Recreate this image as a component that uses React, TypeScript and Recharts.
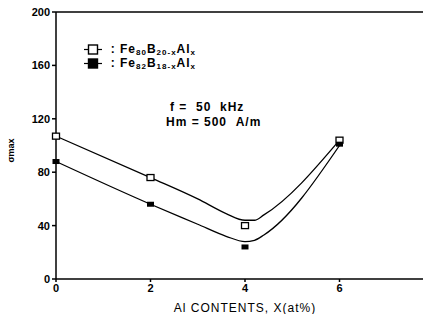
import React from 'react';
import {
  ComposedChart,
  Line,
  Scatter,
  XAxis,
  YAxis,
  ReferenceLine,
} from 'recharts';

// measured points
const alContent = [0, 2, 4, 6];
const fe80Values = [107, 76, 40, 104];
const fe82Values = [88, 56, 24, 101];

// hand-drawn fit curves
const fitX = [0, 2, 3, 3.6, 4, 4.2, 4.4, 6];
const fe80Fit = [107, 76, 60, 49, 44, 44, 48, 104];
const fe82Fit = [88, 56, 41, 32, 28, 29, 33, 100];

const xTicks = [0, 2, 4, 6];
const yTicks = [0, 40, 80, 120, 160, 200];

const fe80Points = alContent.map((x, i) => ({ x, y: fe80Values[i] }));
const fe82Points = alContent.map((x, i) => ({ x, y: fe82Values[i] }));
const fe80Curve = fitX.map((x, i) => ({ x, y: fe80Fit[i] }));
const fe82Curve = fitX.map((x, i) => ({ x, y: fe82Fit[i] }));

const font = '"Liberation Sans", Arial, sans-serif';

const OpenSquare = (props: any) => (
  <rect x={props.cx - 3.5} y={props.cy - 3} width={7} height={6} fill="#fff" stroke="#000" strokeWidth={1.3} />
);
const FilledSquare = (props: any) => (
  <rect x={props.cx - 3.5} y={props.cy - 2.5} width={7} height={5} fill="#000" />
);

const LegendIcon = ({ filled }: { filled: boolean }) => (
  <svg width={18} height={11} style={{ verticalAlign: 'middle' }}>
    <line x1={0} y1={5.5} x2={4} y2={5.5} stroke="#000" strokeWidth={1.2} />
    <line x1={14} y1={5.5} x2={18} y2={5.5} stroke="#000" strokeWidth={1.2} />
    <rect x={4.5} y={1} width={9} height={9} fill={filled ? '#000' : '#fff'} stroke="#000" strokeWidth={1.4} />
  </svg>
);

const legendRow: React.CSSProperties = {
  position: 'absolute',
  fontSize: 12,
  fontWeight: 'bold',
  whiteSpace: 'nowrap',
  lineHeight: '13px',
  letterSpacing: 1,
};
const sub: React.CSSProperties = { fontSize: 8, verticalAlign: -2 };

const YLabel = (props: any) => {
  const { viewBox } = props;
  const cx = 14;
  const cy = viewBox.y + viewBox.height / 2 + 5;
  return (
    <text x={cx} y={cy} transform={`rotate(-90, ${cx}, ${cy})`} textAnchor="middle" fontSize={9} fontWeight="bold" fontFamily={font} fill="#000">
      σmax
    </text>
  );
};

export default function App() {
  return (
    <div style={{ position: 'relative', width: 431, height: 322, overflow: 'hidden', margin: -8, background: '#fff', fontFamily: font }}>
      <ComposedChart width={440} height={322} margin={{ top: 12, right: 6, bottom: 0, left: 0 }}>
        <XAxis
          type="number"
          dataKey="x"
          domain={[0, 8]}
          ticks={xTicks}
          stroke="#000"
          strokeWidth={1.5}
          tickSize={3}
          tick={{ fill: '#000', fontSize: 11, fontWeight: 'bold', fontFamily: font }}
          height={43}
          label={{ value: 'Al  CONTENTS, X(at%)', position: 'insideBottom', offset: 10, fill: '#000', fontSize: 12, letterSpacing: 1, fontFamily: font }}
        />
        <YAxis
          type="number"
          dataKey="y"
          domain={[0, 200]}
          ticks={yTicks}
          stroke="#000"
          strokeWidth={1.5}
          tickSize={4}
          width={56}
          tick={{ fill: '#000', fontSize: 11, fontWeight: 'bold', fontFamily: font }}
          label={<YLabel />}
        />
        <ReferenceLine y={200} stroke="#000" strokeWidth={1.5} />
        <Line data={fe80Curve} dataKey="y" type="monotone" stroke="#000" strokeWidth={1.3} dot={false} isAnimationActive={false} />
        <Line data={fe82Curve} dataKey="y" type="monotone" stroke="#000" strokeWidth={1.3} dot={false} isAnimationActive={false} />
        <Scatter data={fe80Points} dataKey="y" shape={OpenSquare} isAnimationActive={false} />
        <Scatter data={fe82Points} dataKey="y" shape={FilledSquare} isAnimationActive={false} />
      </ComposedChart>

      <div style={{ ...legendRow, left: 84, top: 43 }}>
        <LegendIcon filled={false} /> &nbsp;: Fe<span style={sub}>80</span>B<span style={sub}>20-x</span>Al<span style={sub}>x</span>
      </div>
      <div style={{ ...legendRow, left: 84, top: 57 }}>
        <LegendIcon filled /> &nbsp;: Fe<span style={sub}>82</span>B<span style={sub}>18-x</span>Al<span style={sub}>x</span>
      </div>
      <div style={{ ...legendRow, left: 170, top: 101 }}>f = &nbsp;50 &nbsp;kHz</div>
      <div style={{ ...legendRow, left: 166, top: 116 }}>Hm = 500 &nbsp;A/m</div>
    </div>
  );
}
